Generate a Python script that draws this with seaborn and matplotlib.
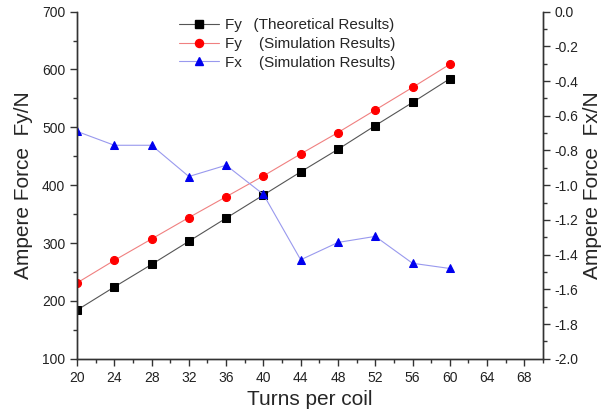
import matplotlib
matplotlib.use("Agg")
import matplotlib.pyplot as plt
import seaborn as sns
import numpy as np
from matplotlib.ticker import MultipleLocator
from matplotlib.lines import Line2D

turns = [20, 24, 28, 32, 36, 40, 44, 48, 52, 56, 60]
fy_theory = [184, 224, 263, 303, 343, 383, 423, 462, 503, 543, 584]
fy_sim = [231, 270, 307, 344, 380, 416, 454, 491, 530, 569, 609]
fx_sim = [-0.69, -0.77, -0.77, -0.95, -0.885, -1.053, -1.43, -1.33, -1.295, -1.45, -1.48]
fx_ticks = [-2.0, -1.8, -1.6, -1.4, -1.2, -1.0, -0.8, -0.6, -0.4, -0.2, 0.0]
fx_tick_labels = ["-2.0", "-1.8", "-1.6", "-1.4", "-1.2", "-1.0", "-0.8", "-0.6", "-0.4", "-0.2", "0.0"]
x_ticks = [20, 24, 28, 32, 36, 40, 44, 48, 52, 56, 60, 64, 68]

sns.set_style("ticks")
plt.rcParams['font.family'] = ['Liberation Sans', 'DejaVu Sans']

fig = plt.figure(figsize=(6.03, 4.16), dpi=100)
ax = fig.add_axes([0.1277, 0.1377, 0.7728, 0.8343])
ax2 = ax.twinx()

ms_sq, ms_c, ms_t = 5.2, 5.8, 6.2
sns.lineplot(x=turns, y=fy_theory, ax=ax, color="#555555", lw=0.8, marker="s",
             markersize=ms_sq, markerfacecolor="black", markeredgecolor="black")
sns.lineplot(x=turns, y=fy_sim, ax=ax, color="#f08080", lw=0.8, marker="o",
             markersize=ms_c, markerfacecolor="red", markeredgecolor="red")
sns.lineplot(x=turns, y=fx_sim, ax=ax2, color="#9999ee", lw=0.8, marker="^",
             markersize=ms_t, markerfacecolor="#0000ee", markeredgecolor="#0000ee")

ax.set_xlim(20, 70)
ax.set_ylim(100, 700)
ax2.set_ylim(-2.0, 0.0)
ax.set_xticks(x_ticks)
ax.xaxis.set_minor_locator(MultipleLocator(2))
ax.yaxis.set_major_locator(MultipleLocator(100))
ax.yaxis.set_minor_locator(MultipleLocator(50))
ax2.set_yticks(fx_ticks)
ax2.set_yticklabels(fx_tick_labels)
ax2.yaxis.set_minor_locator(MultipleLocator(0.1))

for a in (ax, ax2):
    a.spines['top'].set_visible(False)
    for s in a.spines.values():
        s.set_linewidth(1.0)
        s.set_color("#333333")
    a.tick_params(which="major", length=5, width=1, labelsize=10, direction="out", colors="#333333", labelcolor="#222222")
    a.tick_params(which="minor", length=3, width=1, direction="out", colors="#333333")

ax.set_xlabel("Turns per coil", fontsize=15, labelpad=4)
ax.set_ylabel("Ampere Force  Fy/N", fontsize=15, labelpad=6)
ax2.set_ylabel("Ampere Force  Fx/N", fontsize=15, labelpad=3)

handles = [
    Line2D([], [], color="#555555", lw=0.8, marker="s", markersize=ms_sq, markerfacecolor="black", markeredgecolor="black"),
    Line2D([], [], color="#f08080", lw=0.8, marker="o", markersize=ms_c, markerfacecolor="red", markeredgecolor="red"),
    Line2D([], [], color="#9999ee", lw=0.8, marker="^", markersize=ms_t, markerfacecolor="#0000ee", markeredgecolor="#0000ee"),
]
labels = ["Fy  \u2009(Theoretical Results)", "Fy    (Simulation Results)", "Fx    (Simulation Results)"]
ax.legend(handles, labels, loc="upper left", bbox_to_anchor=(0.19, 1.02), frameon=False,
          fontsize=11, handlelength=2.6, labelspacing=0.3, handletextpad=0.4)

fig.savefig("out.png", dpi=100)
